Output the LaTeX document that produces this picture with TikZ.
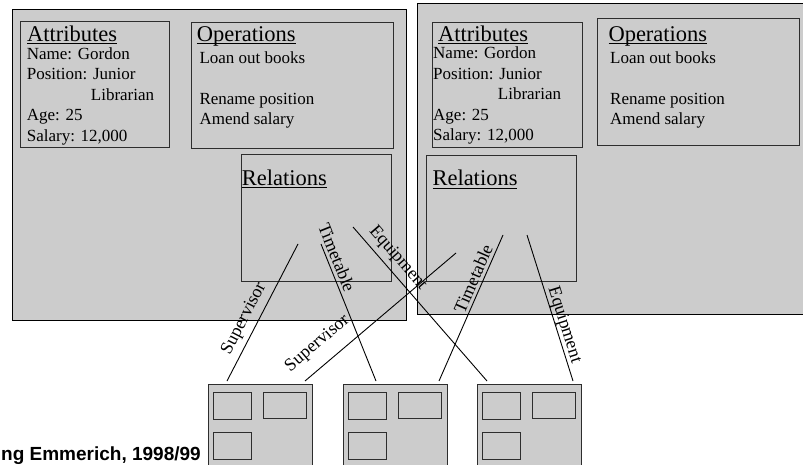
\documentclass[tikz,border=0pt]{standalone}
\usepackage{fontspec}
\setmainfont{Liberation Serif}
\newfontfamily\creditfont{Liberation Sans}

\definecolor{panel}{RGB}{204,204,204}
\definecolor{edge}{RGB}{45,45,45}

% heading with a thin rule close under the baseline
\newcommand\ulhead[1]{\setbox0\hbox{#1}\rlap{\rule[-3pt]{\wd0}{1pt}}\box0}

\tikzset{
  objbox/.style={draw=black, line width=1.1pt, fill=panel, anchor=north west, inner sep=0pt},
  partbox/.style={draw=edge, line width=1.3pt, fill=panel, anchor=north west, inner sep=0pt},
  head/.style={anchor=base west, inner sep=0pt, font=\fontsize{22.5}{24}\selectfont},
  body/.style={anchor=base west, inner sep=0pt, font=\fontsize{17}{19}\selectfont},
  link/.style={draw=black, line width=0.9pt},
  lbl/.style={sloped, inner sep=3pt, font=\fontsize{18}{20}\selectfont},
}

\begin{document}
\begin{tikzpicture}[x=1pt, y=-1pt]
\useasboundingbox (0,0) rectangle (803,465);
\fill[white] (0,0) rectangle (803,465);

% ---------- first object ----------
\node[objbox, minimum width=394pt, minimum height=311pt] (objA) at (12,9) {};
\node[partbox, minimum width=149pt, minimum height=126pt] (attA) at (20,21) {};
\node[partbox, minimum width=202pt, minimum height=126pt] (opsA) at (191,22) {};
\node[partbox, minimum width=150pt, minimum height=127pt] (relA) at (241,154) {};

\node[head] (attAh) at (27,41.5) {\ulhead{Attributes}};
\node[body] (attA1) at (26.7,59.3) {Name: Gordon};
\node[body] (attA2) at (26.7,80) {Position: Junior};
\node[body] (attA3) at (90.7,100.7) {Librarian};
\node[body] (attA4) at (26.7,120.7) {Age: 25};
\node[body] (attA5) at (26.7,141.7) {Salary: 12,000};

\node[head] (opsAh) at (196.7,41.5) {\ulhead{Operations}};
\node[body] (opsA1) at (199.3,63.3) {Loan out books};
\node[body] (opsA2) at (199.3,104.3) {Rename position};
\node[body] (opsA3) at (199.3,124.3) {Amend salary};

\node[head] (relAh) at (241.7,185.5) {\ulhead{Relations}};

% ---------- second object ----------
\node[objbox, minimum width=400pt, minimum height=311pt] (objB) at (417,3) {};
\node[partbox, minimum width=150pt, minimum height=125pt] (attB) at (432,22) {};
\node[partbox, minimum width=202pt, minimum height=127pt] (opsB) at (597,18) {};
\node[partbox, minimum width=150pt, minimum height=126pt] (relB) at (426,155) {};

\node[head] (attBh) at (438,41.5) {\ulhead{Attributes}};
\node[body] (attB1) at (433,58.3) {Name: Gordon};
\node[body] (attB2) at (433,79.3) {Position: Junior};
\node[body] (attB3) at (497.7,100) {Librarian};
\node[body] (attB4) at (433,120.7) {Age: 25};
\node[body] (attB5) at (433,141) {Salary: 12,000};

\node[head] (opsBh) at (608.3,41.5) {\ulhead{Operations}};
\node[body] (opsB1) at (610,63.3) {Loan out books};
\node[body] (opsB2) at (610,104.3) {Rename position};
\node[body] (opsB3) at (610,124.3) {Amend salary};

\node[head] (relBh) at (432.3,185.7) {\ulhead{Relations}};

% ---------- related objects ----------
\foreach \n/\x in {1/208, 2/343, 3/477} {
  \node[objbox, draw=edge, line width=1.2pt, minimum width=104pt, minimum height=90pt] (low\n) at (\x,384) {};
  \node[partbox, minimum width=38pt, minimum height=27pt] (low\n a) at (\x+5,392) {};
  \node[partbox, minimum width=43pt, minimum height=26pt] (low\n b) at (\x+55,392) {};
  \node[partbox, minimum width=38pt, minimum height=27pt] (low\n c) at (\x+5,432) {};
}

% ---------- relation end points ----------
\coordinate (sLt) at (298,244);  \coordinate (sLb) at (227,381);
\coordinate (tLt) at (321,244);  \coordinate (tLb) at (376,381);
\coordinate (eLt) at (353,227);  \coordinate (eLb) at (487,381);
\coordinate (sRt) at (456,253);  \coordinate (sRb) at (305,381);
\coordinate (tRt) at (503,235);  \coordinate (tRb) at (439,381);
\coordinate (eRt) at (527,235);  \coordinate (eRb) at (573,381);

\draw[link] (sLb) -- node[lbl, pos=0.41, above=2pt] (lsL) {Supervisor} (sLt);
\draw[link] (tLt) -- node[lbl, pos=0.125, above=0pt] (ltL) {Timetable} (tLb);
\draw[link] (eLt) -- node[lbl, pos=0.26, above=2pt] (leL) {Equipment} (eLb);
\draw[link] (sRb) -- node[lbl, pos=0.17, above=9pt] (lsR) {Supervisor} (sRt);
\draw[link] (tRb) -- node[lbl, pos=0.675, above=0pt] (ltR) {Timetable} (tRt);
\draw[link] (eRt) -- node[lbl, pos=0.634, above=-3pt] (leR) {Equipment} (eRb);

% ---------- credit line ----------
\node[anchor=base east, inner sep=0pt, font=\creditfont\bfseries\fontsize{19}{21}\selectfont] (credit) at (201,460) {ng Emmerich, 1998/99};
\end{tikzpicture}
\end{document}
